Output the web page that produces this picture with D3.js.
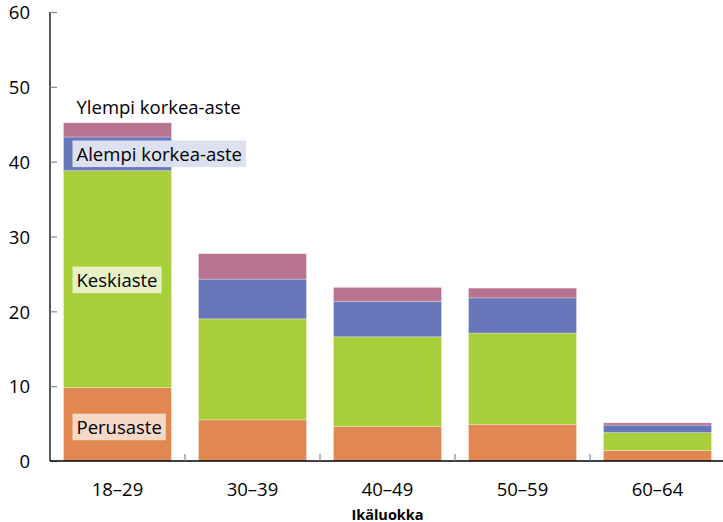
<!DOCTYPE html>
<html>
<head>
<meta charset="utf-8">
<script src="https://cdn.jsdelivr.net/npm/d3@7"></script>
<style>
  body { margin: 0; background: #fff; }
  svg { display: block; }
</style>
</head>
<body>
<svg id="chart" width="723" height="522"></svg>
<script>
// age groups and education levels (% shares)
var ageGroups = ["18–29", "30–39", "40–49", "50–59", "60–64"];
var levels = ["Perusaste", "Keskiaste", "Alempi korkea-aste", "Ylempi korkea-aste"];
var perusaste = [9.8, 5.5, 4.6, 4.9, 1.4];
var keskiaste = [29.0, 13.5, 12.0, 12.2, 2.4];
var alempi = [4.5, 5.3, 4.7, 4.7, 1.0];
var ylempi = [1.9, 3.4, 1.9, 1.3, 0.3];
var yTicks = [0, 10, 20, 30, 40, 50, 60];

var colors = ["#e08752", "#a8cf3a", "#6777b9", "#b87391"];
var labelBg = ["#f5d8c6", "#e6f2c6", "#dde0ef", null];

var rows = ageGroups.map(function(g, i) {
	return {group: g, "Perusaste": perusaste[i], "Keskiaste": keskiaste[i],
		"Alempi korkea-aste": alempi[i], "Ylempi korkea-aste": ylempi[i]};
});

var svg = d3.select("#chart");
var mLeft = 50, mRight = 725, mTop = 12, mBottom = 461;
var font = "'Open Sans', sans-serif";

var x = d3.scaleBand()
	.domain(ageGroups)
	.range([mLeft, mRight])
	.paddingInner(0.2)
	.paddingOuter(0.1);

var y = d3.scaleLinear()
	.domain([0, 60])
	.range([mBottom, mTop]);

var stack = d3.stack().keys(levels)(rows);

// bars
stack.forEach(function(layer, li) {
	svg.append("g")
		.selectAll("rect")
		.data(layer)
		.join("rect")
		.attr("x", function(d) { return x(d.data.group); })
		.attr("y", function(d) { return y(d[1]); })
		.attr("width", x.bandwidth())
		.attr("height", function(d) { return y(d[0]) - y(d[1]); })
		.attr("fill", colors[li])
		.attr("stroke", "#fff")
		.attr("stroke-opacity", 0.35)
		.attr("stroke-width", 0.8);
});

// y axis
var yAxis = svg.append("g")
	.attr("transform", "translate(" + mLeft + ",0)")
	.call(d3.axisLeft(y).tickValues(yTicks).tickSize(-7).tickPadding(20));
yAxis.select(".domain").attr("stroke", "#000").attr("stroke-width", 1.3)
	.attr("d", "M0," + mTop + "V" + mBottom);
yAxis.selectAll(".tick line").attr("stroke", "#888").attr("stroke-width", 1.2);
yAxis.selectAll(".tick text")
	.attr("font-family", font)
	.attr("font-size", 18.5)
	.attr("fill", "#000")
	.attr("dy", "0.36em");

// x axis
var xAxis = svg.append("g")
	.attr("transform", "translate(0," + mBottom + ")")
	.call(d3.axisBottom(x).tickSize(0).tickPadding(22));
xAxis.select(".domain").attr("stroke", "#000").attr("stroke-width", 1.5)
	.attr("d", "M" + mLeft + ",0H" + mRight);
xAxis.selectAll(".tick text")
	.attr("font-family", font)
	.attr("font-size", 18.5)
	.attr("fill", "#000");

// small separators between groups
svg.append("g")
	.selectAll("line")
	.data(ageGroups.slice(1))
	.join("line")
	.attr("x1", function(d) { return x(d) - x.step() * x.paddingInner() / 2; })
	.attr("x2", function(d) { return x(d) - x.step() * x.paddingInner() / 2; })
	.attr("y1", mBottom)
	.attr("y2", mBottom - 7)
	.attr("stroke", "#888")
	.attr("stroke-width", 1.2);

svg.append("text")
	.attr("x", (mLeft + mRight) / 2)
	.attr("y", 519.5)
	.attr("text-anchor", "middle")
	.attr("font-family", font)
	.attr("font-weight", "bold")
	.attr("font-size", 14.5)
	.text("Ikäluokka");

// in-bar level labels on the first group
var labelY = [4.55, 24.2, 41.05, 47.3];
levels.forEach(function(name, i) {
	var tx = x(ageGroups[0]) + 13;
	var ty = y(labelY[i]);
	var t = svg.append("text")
		.attr("x", tx)
		.attr("y", ty + 6.7)
		.attr("font-family", font)
		.attr("font-size", 18.5)
		.attr("fill", "#000")
		.text(name);
	if (labelBg[i]) {
		var w = t.node().getComputedTextLength();
		svg.insert("rect", function() { return t.node(); })
			.attr("x", tx - 4)
			.attr("y", ty - 13.3)
			.attr("width", w + 8)
			.attr("height", 26.6)
			.attr("fill", labelBg[i]);
	}
});
</script>
</body>
</html>
